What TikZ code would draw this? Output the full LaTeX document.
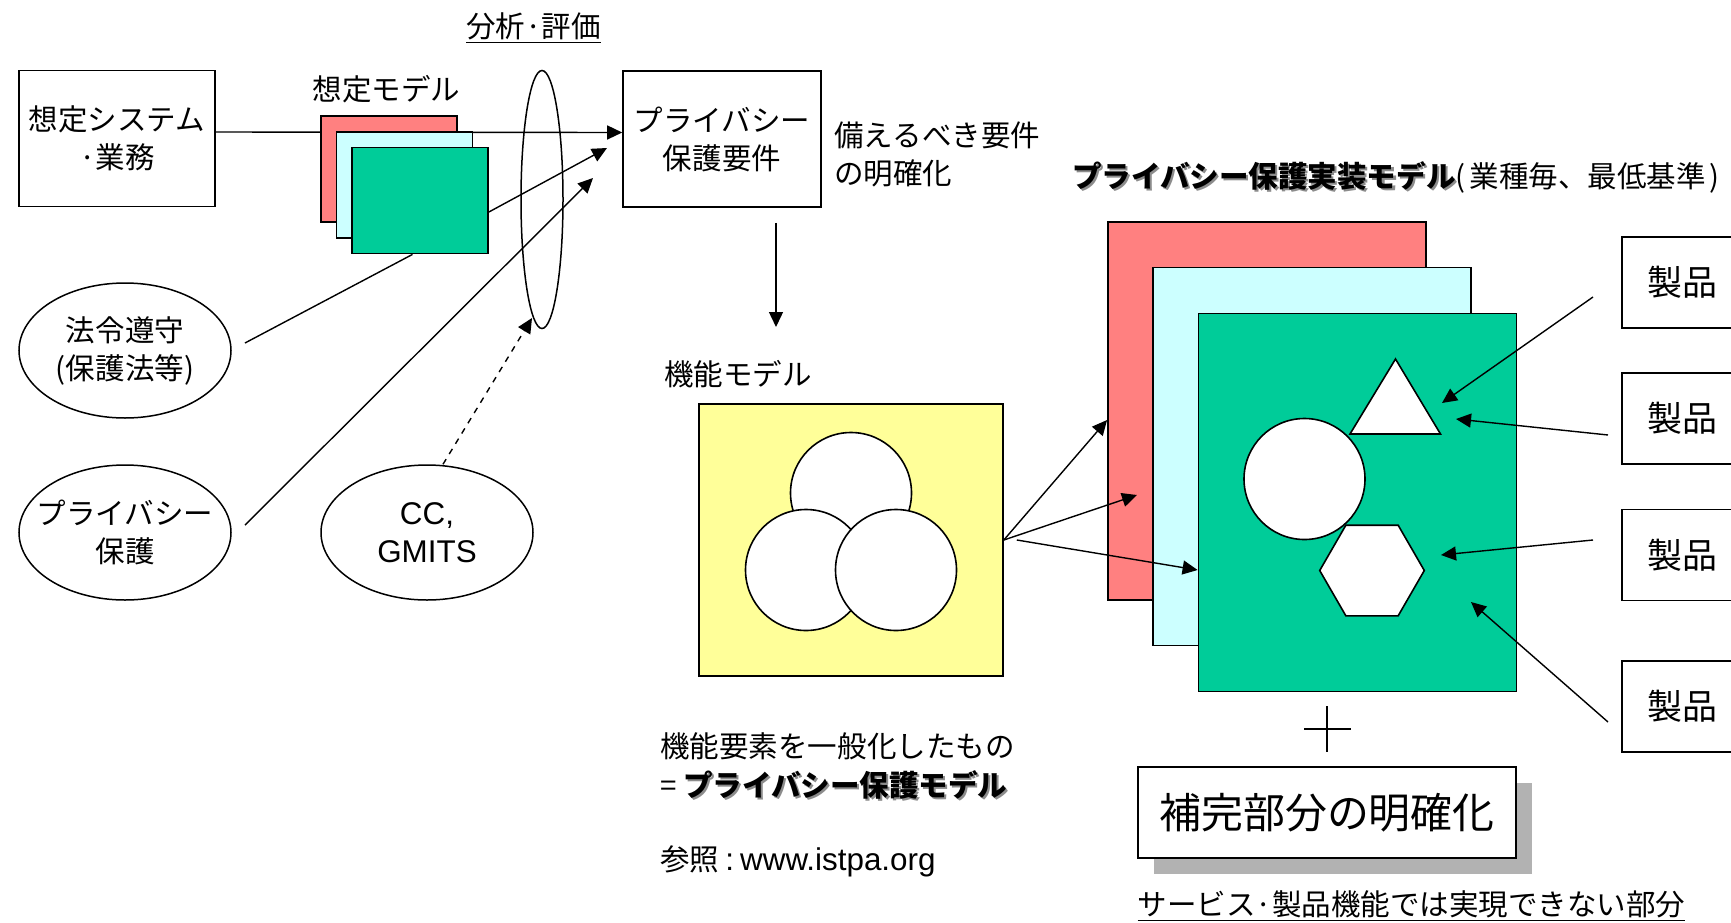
\documentclass[tikz,border=0pt]{standalone}
\usepackage{fontspec}
\setmainfont{Liberation Sans}
\newfontfamily\jp[Scale=0.94]{Noto Sans CJK JP}
\usetikzlibrary{arrows.meta,shapes.geometric,shadows}

\definecolor{sheetred}{HTML}{FF8080}
\definecolor{sheetcyan}{HTML}{CCFFFF}
\definecolor{sheetgreen}{HTML}{00CC99}
\definecolor{funcyellow}{HTML}{FFFF99}

\newcommand{\jpfont}{\fontsize{15.7pt}{19pt}\selectfont\jp}
\newcommand{\shadowed}[1]{\leavevmode\rlap{\kern1pt\raisebox{-1pt}{\textcolor{black!45}{#1}}}{#1}}

\tikzset{
  box/.style={draw, line width=0.8pt, fill=white, inner sep=0pt, align=center, font=\jpfont},
  sheet/.style={draw, line width=0.9pt, inner sep=0pt, minimum width=68pt, minimum height=53pt},
  bigsheet/.style={draw, line width=0.9pt, inner sep=0pt, minimum width=159pt, minimum height=189pt},
  oval/.style={ellipse, draw, line width=0.75pt, inner xsep=-9pt, inner ysep=0pt, minimum width=106pt, minimum height=67.5pt, align=center, font=\jpfont},
  piece/.style={draw, line width=0.8pt, fill=white, inner sep=0pt},
  txt/.style={inner sep=0pt, align=left, font=\jpfont},
  arr/.style={-{Triangle[length=7.5pt,width=7pt]}, line width=0.7pt},
  link/.style={line width=0.7pt},
}

\begin{document}
\begin{tikzpicture}[x=0.5pt, y=-0.5pt]
  \useasboundingbox (0,0) rectangle (1731,922);

  %% === Left: assumed system and requirements ===
  \node[box, minimum width=98pt, minimum height=68pt] (sys) at (117,138.5) {想定システム\\·業務};
  \node[box, minimum width=99pt, minimum height=68pt] (req) at (722,139) {プライバシー\\保護要件};

  % Assumed model sheets (over the main arrow)
  \draw[arr] ([yshift=3.25pt]sys.east) -- ([yshift=3.25pt]req.west);
  \node[sheet, fill=sheetred] (smodel1) at (389,169) {};
  \node[sheet, fill=sheetcyan] (smodel2) at (404.5,185) {};
  \node[sheet, fill=sheetgreen] (smodel3) at (420,200.5) {};
  \node[txt] (smodellbl) at (386.5,89.5) {想定モデル};

  % Sources
  \node[oval] (law) at (125,350.5) {法令遵守\\(保護法等)};
  \node[oval] (priv) at (125,532.5) {プライバシー\\保護};
  \node[oval, font=\fontsize{15.7pt}{19pt}\selectfont] (cc) at (427,532.5) {CC,\\GMITS};

  % Analysis lens
  \node[ellipse, draw, line width=0.75pt, inner sep=0pt, minimum width=21pt, minimum height=129pt] (lens) at (542,199.5) {};
  \node[txt] (lenslbl) at (533.5,28) {\underline{分析·評価}};

  % Free ends
  \coordinate (lawout) at (245,343);
  \coordinate (privout) at (245,525);
  \coordinate (reqin1) at (607,148);
  \coordinate (reqin2) at (593,178);
  \coordinate (lensin) at (532,318);
  \coordinate (funcin) at (776,327);

  \draw[link] (lawout) -- ([xshift=-3.75pt]smodel3.south);
  \draw[arr] ([yshift=-5.75pt]smodel3.east) -- (reqin1);
  \draw[arr] (privout) -- (reqin2);
  \draw[arr, dashed] ([xshift=8pt]cc.north) -- (lensin);
  \draw[arr] ([shift={(27pt,-7.5pt)}]req.south) -- (funcin);

  \node[txt, anchor=west] (reqnote) at (834,154) {備えるべき要件\\の明確化};

  %% === Middle: functional model ===
  \node[txt] (funclbl) at (738,374.5) {機能モデル};
  \node[draw, line width=0.8pt, fill=funcyellow, inner sep=0pt, minimum width=152pt, minimum height=136pt] (func) at (851,540) {};
  \node[circle, piece, minimum size=60.5pt] (fc1) at (851,493) {};
  \node[circle, piece, minimum size=60.5pt] (fc2) at (806,570) {};
  \node[circle, piece, minimum size=60.5pt] (fc3) at (896,570) {};

  \node[txt, anchor=west] (funcnote) at (660,746.5) {機能要素を一般化したもの};
  \node[txt, anchor=west] (funcmodel) at (660,786) {= \shadowed{\bfseries プライバシー保護モデル}};
  \node[txt, anchor=west, font=\fontsize{15.7pt}{19pt}\selectfont] (funcref) at (660,861.5) {{\jp 参照}\kern3pt:\kern3pt www.istpa.org};

  %% === Right: implementation model ===
  \node[txt, anchor=west] (impllbl) at (1072,177) {\shadowed{\bfseries プライバシー保護実装モデル}(\kern2pt 業種毎、最低基準\kern2pt)};
  \node[bigsheet, fill=sheetred] (impl1) at (1267,411) {};
  \node[bigsheet, fill=sheetcyan] (impl2) at (1312,456.5) {};
  \node[bigsheet, fill=sheetgreen] (impl3) at (1357.5,502.5) {};

  % Parts on the front sheet
  \draw[piece] (1395.5,359) -- (1440.5,434) -- (1350,434) -- cycle;
  \node[circle, piece, minimum size=60.5pt] (pcirc) at (1304.5,479) {};
  \node[regular polygon, regular polygon sides=6, piece, minimum size=52.3pt] (phex) at (1372,570.5) {};

  % Functional model into the sheets
  \coordinate (implin2) at (1137,495);
  \draw[arr] (func.east) -- ([yshift=-4.5pt]impl1.west);
  \draw[arr] (func.east) -- (implin2);
  \draw[arr] ([xshift=6.5pt]func.east) -- ([yshift=-33.75pt]impl3.west);

  % Products
  \foreach \i/\y in {1/282.5, 2/418.5, 3/555, 4/706.5}
    \node[box, minimum width=60pt, minimum height=45.5pt, font=\fontsize{18.6pt}{22pt}\selectfont\jp] (prod\i) at (1682,\y) {製品};

  \coordinate (p1out) at (1593,297);  \coordinate (p1in) at (1442,403);
  \coordinate (p2out) at (1608,435);  \coordinate (p2in) at (1456,419);
  \coordinate (p3out) at (1593,540);  \coordinate (p3in) at (1441,555);
  \coordinate (p4out) at (1608,722);  \coordinate (p4in) at (1471,602);
  \foreach \i in {1,...,4}
    \draw[arr] (p\i out) -- (p\i in);

  % Complement part
  \draw[line width=0.6pt] (1327,706) -- (1327,752) (1304,729) -- (1351,729);
  \node[box, minimum width=189pt, minimum height=45.5pt, font=\fontsize{22.3pt}{26pt}\selectfont\jp,
        drop shadow={shadow xshift=8pt, shadow yshift=-8pt, fill=gray!60, opacity=1}] (comp) at (1327,812.5) {補完部分の明確化};
  \node[txt] (complbl) at (1411.5,906) {\underline{サービス·製品機能では実現できない部分}};
\end{tikzpicture}
\end{document}
